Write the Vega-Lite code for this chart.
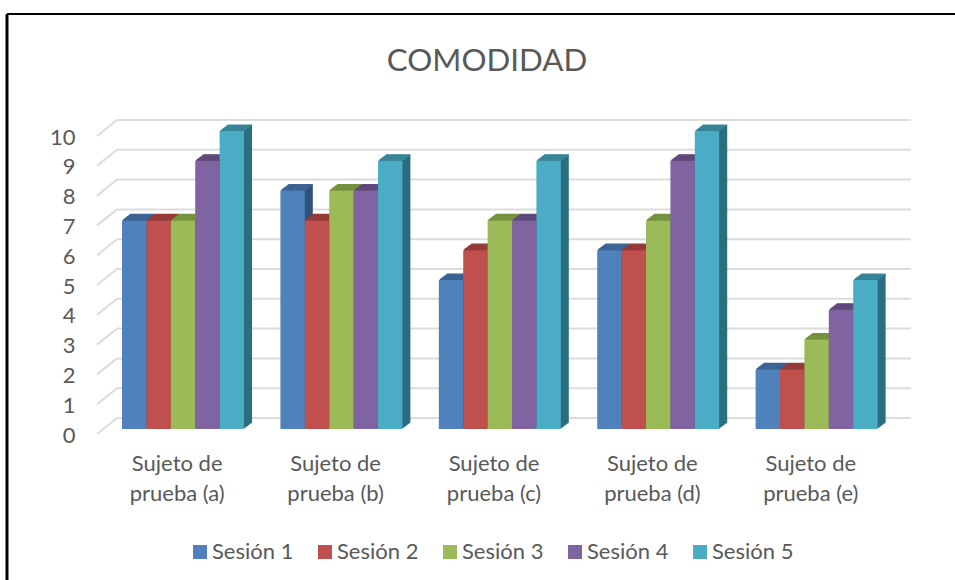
{"$schema":"https://vega.github.io/schema/vega-lite/v6.json","width":792,"height":298,"autosize":{"type":"none"},"padding":{"left":97,"top":136,"right":66,"bottom":146},"background":"white","title":{"text":"COMODIDAD","font":"Lato","fontSize":31.3,"fontWeight":"normal","color":"#595959","anchor":"middle","dx":-6,"offset":-65},"config":{"view":{"stroke":null},"font":"Lato"},
"datasets":{"d":[{"sujeto":"Sujeto de prueba (a)","sesion":"Sesión 1","valor":7},{"sujeto":"Sujeto de prueba (a)","sesion":"Sesión 2","valor":7},{"sujeto":"Sujeto de prueba (a)","sesion":"Sesión 3","valor":7},{"sujeto":"Sujeto de prueba (a)","sesion":"Sesión 4","valor":9},{"sujeto":"Sujeto de prueba (a)","sesion":"Sesión 5","valor":10},{"sujeto":"Sujeto de prueba (b)","sesion":"Sesión 1","valor":8},{"sujeto":"Sujeto de prueba (b)","sesion":"Sesión 2","valor":7},{"sujeto":"Sujeto de prueba (b)","sesion":"Sesión 3","valor":8},{"sujeto":"Sujeto de prueba (b)","sesion":"Sesión 4","valor":8},{"sujeto":"Sujeto de prueba (b)","sesion":"Sesión 5","valor":9},{"sujeto":"Sujeto de prueba (c)","sesion":"Sesión 1","valor":5},{"sujeto":"Sujeto de prueba (c)","sesion":"Sesión 2","valor":6},{"sujeto":"Sujeto de prueba (c)","sesion":"Sesión 3","valor":7},{"sujeto":"Sujeto de prueba (c)","sesion":"Sesión 4","valor":7},{"sujeto":"Sujeto de prueba (c)","sesion":"Sesión 5","valor":9},{"sujeto":"Sujeto de prueba (d)","sesion":"Sesión 1","valor":6},{"sujeto":"Sujeto de prueba (d)","sesion":"Sesión 2","valor":6},{"sujeto":"Sujeto de prueba (d)","sesion":"Sesión 3","valor":7},{"sujeto":"Sujeto de prueba (d)","sesion":"Sesión 4","valor":9},{"sujeto":"Sujeto de prueba (d)","sesion":"Sesión 5","valor":10},{"sujeto":"Sujeto de prueba (e)","sesion":"Sesión 1","valor":2},{"sujeto":"Sujeto de prueba (e)","sesion":"Sesión 2","valor":2},{"sujeto":"Sujeto de prueba (e)","sesion":"Sesión 3","valor":3},{"sujeto":"Sujeto de prueba (e)","sesion":"Sesión 4","valor":4},{"sujeto":"Sujeto de prueba (e)","sesion":"Sesión 5","valor":5}],"g":[{"v":0},{"v":1},{"v":2},{"v":3},{"v":4},{"v":5},{"v":6},{"v":7},{"v":8},{"v":9},{"v":10}],"o":[{"k":1}]},
"layer":[
{"data":{"name":"g"},"mark":{"type":"rule","color":"#dcdcdc","strokeWidth":2,"yOffset":-16},"encoding":{"x":{"value":20},"x2":{"value":814},"y":{"field":"v","type":"quantitative","scale":{"domain":[0,10]},"axis":{"values":[0,1,2,3,4,5,6,7,8,9,10],"title":null,"domain":false,"ticks":false,"grid":false,"labelOverlap":false,"labelFont":"Lato","labelFontSize":22,"labelColor":"#595959","labelPadding":22,"labelOffset":1}}}},
{"data":{"name":"g"},"mark":{"type":"rule","color":"#dcdcdc","strokeWidth":2,"y2Offset":-16},"encoding":{"x":{"value":0},"x2":{"value":20},"y":{"field":"v","type":"quantitative","axis":{"values":[0,1,2,3,4,5,6,7,8,9,10],"title":null,"domain":false,"ticks":false,"grid":false,"labelOverlap":false,"labelFont":"Lato","labelFontSize":22,"labelColor":"#595959","labelPadding":22,"labelOffset":1}},"y2":{"field":"v"}}},
{"data":{"name":"o"},"mark":{"type":"rule","color":"black","strokeWidth":2},"encoding":{"x":{"value":-90},"x2":{"value":858},"y":{"value":-122}}},
{"data":{"name":"o"},"mark":{"type":"rule","color":"black","strokeWidth":3},"encoding":{"x":{"value":-90},"y":{"value":-122},"y2":{"value":444}}},
{"data":{"name":"d"},"encoding":{"x":{"field":"sujeto","type":"nominal","scale":{"paddingInner":0.23,"paddingOuter":0.115},"axis":{"title":null,"domain":false,"ticks":false,"labelAngle":0,"labelFont":"Lato","labelFontSize":22,"labelColor":"#595959","labelLineHeight":30,"labelPadding":19,"labelLimit":200,"labelOffset":1,"labelExpr":"[slice(datum.label,0,9),slice(datum.label,10)]"}},"y":{"field":"valor","type":"quantitative","stack":null,"axis":{"values":[0,1,2,3,4,5,6,7,8,9,10],"title":null,"domain":false,"ticks":false,"grid":false,"labelOverlap":false,"labelFont":"Lato","labelFontSize":22,"labelColor":"#595959","labelPadding":22,"labelOffset":1}}},
"resolve":{"scale":{"color":"independent","xOffset":"independent"}},
"layer":[
{"mark":{"type":"bar","yOffset":-11,"y2Offset":-11},"encoding":{"xOffset":{"field":"sesion","type":"nominal","scale":{"range":[14.8,136.8]}},"y2":{"datum":0},"color":{"field":"sesion","type":"nominal","legend":null,"scale":{"range":["#2f5279","#7a2e2c","#5f7532","#4d3b63","#2c6e80"]}}}},
{"mark":{"type":"bar","yOffset":-11,"y2Offset":-11,"strokeWidth":1.2},"encoding":{"xOffset":{"field":"sesion","type":"nominal","scale":{"range":[14.8,136.8]}},"y2":{"field":"valor"},"stroke":{"field":"sesion","type":"nominal","legend":null,"scale":{"range":["#3c6494","#953b39","#76923c","#604a7b","#3a8699"]}}}},
{"mark":{"type":"bar","yOffset":-10.25,"y2Offset":-10.25},"encoding":{"xOffset":{"field":"sesion","type":"nominal","scale":{"range":[13.8,135.8]}},"y2":{"datum":0},"color":{"field":"sesion","type":"nominal","legend":null,"scale":{"range":["#2f5279","#7a2e2c","#5f7532","#4d3b63","#2c6e80"]}}}},
{"mark":{"type":"bar","yOffset":-10.25,"y2Offset":-10.25,"strokeWidth":1.2},"encoding":{"xOffset":{"field":"sesion","type":"nominal","scale":{"range":[13.8,135.8]}},"y2":{"field":"valor"},"stroke":{"field":"sesion","type":"nominal","legend":null,"scale":{"range":["#3c6494","#953b39","#76923c","#604a7b","#3a8699"]}}}},
{"mark":{"type":"bar","yOffset":-9.5,"y2Offset":-9.5},"encoding":{"xOffset":{"field":"sesion","type":"nominal","scale":{"range":[12.8,134.8]}},"y2":{"datum":0},"color":{"field":"sesion","type":"nominal","legend":null,"scale":{"range":["#2f5279","#7a2e2c","#5f7532","#4d3b63","#2c6e80"]}}}},
{"mark":{"type":"bar","yOffset":-9.5,"y2Offset":-9.5,"strokeWidth":1.2},"encoding":{"xOffset":{"field":"sesion","type":"nominal","scale":{"range":[12.8,134.8]}},"y2":{"field":"valor"},"stroke":{"field":"sesion","type":"nominal","legend":null,"scale":{"range":["#3c6494","#953b39","#76923c","#604a7b","#3a8699"]}}}},
{"mark":{"type":"bar","yOffset":-8.75,"y2Offset":-8.75},"encoding":{"xOffset":{"field":"sesion","type":"nominal","scale":{"range":[11.8,133.8]}},"y2":{"datum":0},"color":{"field":"sesion","type":"nominal","legend":null,"scale":{"range":["#2f5279","#7a2e2c","#5f7532","#4d3b63","#2c6e80"]}}}},
{"mark":{"type":"bar","yOffset":-8.75,"y2Offset":-8.75,"strokeWidth":1.2},"encoding":{"xOffset":{"field":"sesion","type":"nominal","scale":{"range":[11.8,133.8]}},"y2":{"field":"valor"},"stroke":{"field":"sesion","type":"nominal","legend":null,"scale":{"range":["#3c6494","#953b39","#76923c","#604a7b","#3a8699"]}}}},
{"mark":{"type":"bar","yOffset":-8,"y2Offset":-8},"encoding":{"xOffset":{"field":"sesion","type":"nominal","scale":{"range":[10.8,132.8]}},"y2":{"datum":0},"color":{"field":"sesion","type":"nominal","legend":null,"scale":{"range":["#2f5279","#7a2e2c","#5f7532","#4d3b63","#2c6e80"]}}}},
{"mark":{"type":"bar","yOffset":-8,"y2Offset":-8,"strokeWidth":1.2},"encoding":{"xOffset":{"field":"sesion","type":"nominal","scale":{"range":[10.8,132.8]}},"y2":{"field":"valor"},"stroke":{"field":"sesion","type":"nominal","legend":null,"scale":{"range":["#3c6494","#953b39","#76923c","#604a7b","#3a8699"]}}}},
{"mark":{"type":"bar","yOffset":-7.25,"y2Offset":-7.25},"encoding":{"xOffset":{"field":"sesion","type":"nominal","scale":{"range":[9.8,131.8]}},"y2":{"datum":0},"color":{"field":"sesion","type":"nominal","legend":null,"scale":{"range":["#2f5279","#7a2e2c","#5f7532","#4d3b63","#2c6e80"]}}}},
{"mark":{"type":"bar","yOffset":-7.25,"y2Offset":-7.25,"strokeWidth":1.2},"encoding":{"xOffset":{"field":"sesion","type":"nominal","scale":{"range":[9.8,131.8]}},"y2":{"field":"valor"},"stroke":{"field":"sesion","type":"nominal","legend":null,"scale":{"range":["#3c6494","#953b39","#76923c","#604a7b","#3a8699"]}}}},
{"mark":{"type":"bar","yOffset":-6.5,"y2Offset":-6.5},"encoding":{"xOffset":{"field":"sesion","type":"nominal","scale":{"range":[8.8,130.8]}},"y2":{"datum":0},"color":{"field":"sesion","type":"nominal","legend":null,"scale":{"range":["#2f5279","#7a2e2c","#5f7532","#4d3b63","#2c6e80"]}}}},
{"mark":{"type":"bar","yOffset":-6.5,"y2Offset":-6.5,"strokeWidth":1.2},"encoding":{"xOffset":{"field":"sesion","type":"nominal","scale":{"range":[8.8,130.8]}},"y2":{"field":"valor"},"stroke":{"field":"sesion","type":"nominal","legend":null,"scale":{"range":["#3c6494","#953b39","#76923c","#604a7b","#3a8699"]}}}},
{"mark":{"type":"bar","yOffset":-5.75,"y2Offset":-5.75},"encoding":{"xOffset":{"field":"sesion","type":"nominal","scale":{"range":[7.8,129.8]}},"y2":{"datum":0},"color":{"field":"sesion","type":"nominal","legend":null,"scale":{"range":["#2f5279","#7a2e2c","#5f7532","#4d3b63","#2c6e80"]}}}},
{"mark":{"type":"bar","yOffset":-5.75,"y2Offset":-5.75,"strokeWidth":1.2},"encoding":{"xOffset":{"field":"sesion","type":"nominal","scale":{"range":[7.8,129.8]}},"y2":{"field":"valor"},"stroke":{"field":"sesion","type":"nominal","legend":null,"scale":{"range":["#3c6494","#953b39","#76923c","#604a7b","#3a8699"]}}}},
{"mark":{"type":"bar","yOffset":-5,"y2Offset":-5},"encoding":{"xOffset":{"field":"sesion","type":"nominal","scale":{"range":[6.8,128.8]}},"y2":{"datum":0},"color":{"field":"sesion","type":"nominal","scale":{"range":["#4f81bd","#c0504d","#9bbb59","#8064a2","#4bacc6"]},"legend":{"title":null,"orient":"none","legendX":92,"legendY":405,"direction":"horizontal","columns":5,"symbolType":"square","symbolSize":196,"symbolStrokeWidth":0,"labelFont":"Lato","labelFontSize":22,"labelColor":"#595959","labelOffset":1,"columnPadding":20}}}}
]}
]}
